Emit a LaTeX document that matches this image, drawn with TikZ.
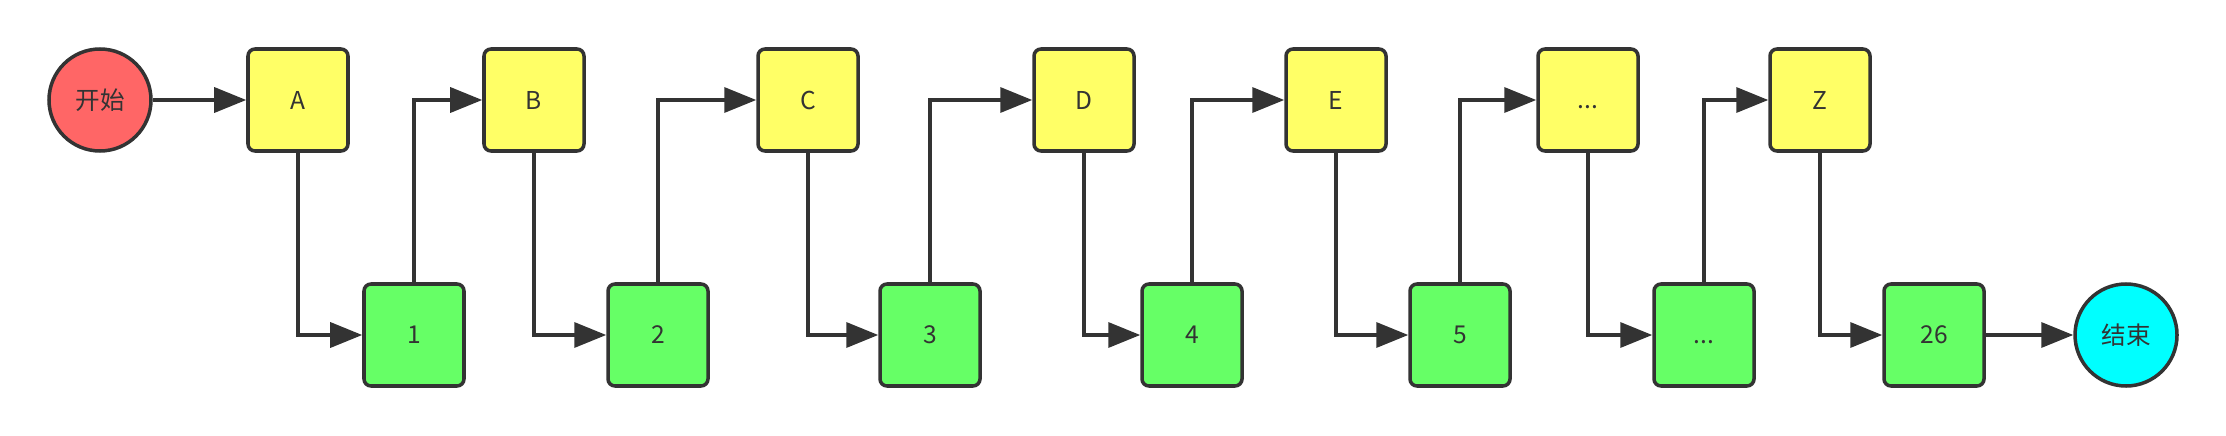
\documentclass[tikz,border=0pt]{standalone}
\usepackage{fontspec}
\setmainfont{Noto Sans CJK SC}
\usetikzlibrary{arrows.meta,shapes.geometric,positioning}
\definecolor{linegray}{HTML}{333333}
\definecolor{boxyellow}{HTML}{FFFF66}
\definecolor{boxgreen}{HTML}{66FF66}
\definecolor{startred}{HTML}{FF6666}
\definecolor{endcyan}{HTML}{00FFFF}

\begin{document}
\begin{tikzpicture}[
    every node/.style={font=\fontsize{14}{16}\selectfont,text=linegray},
    box/.style={rectangle,draw=linegray,line width=2pt,minimum width=2cm,minimum height=2.04cm,rounded corners=4pt,inner sep=0pt},
    letterbox/.style={box,fill=boxyellow},
    numbox/.style={box,fill=boxgreen},
    term/.style={ellipse,draw=linegray,line width=2pt,minimum width=2.04cm,minimum height=2.04cm,inner sep=0pt},
    arrow/.style={draw=linegray,line width=2pt,-{Triangle[length=0.64cm,width=0.5cm]}}
]
    \useasboundingbox (0,0) rectangle (44.52,-8.72);

    \node[term,fill=startred] (start) at (2.0,-2.0) {开始};
    \node[letterbox] (A) at (5.96,-2.0) {A};
    \node[numbox] (n1) at (8.28,-6.7) {1};
    \node[letterbox] (B) at (10.68,-2.0) {B};
    \node[numbox] (n2) at (13.16,-6.7) {2};
    \node[letterbox] (C) at (16.16,-2.0) {C};
    \node[numbox] (n3) at (18.6,-6.7) {3};
    \node[letterbox] (D) at (21.68,-2.0) {D};
    \node[numbox] (n4) at (23.84,-6.7) {4};
    \node[letterbox] (E) at (26.72,-2.0) {E};
    \node[numbox] (n5) at (29.2,-6.7) {5};
    \node[letterbox] (dotsL) at (31.76,-2.0) {\vphantom{A}...};
    \node[numbox] (dotsN) at (34.08,-6.7) {\vphantom{1}...};
    \node[letterbox] (Z) at (36.4,-2.0) {Z};
    \node[numbox] (n26) at (38.68,-6.7) {26};
    \node[term,fill=endcyan] (stop) at (42.52,-6.7) {结束};

    \draw[arrow] (start) -- (A);
    \draw[arrow] (A) |- (n1);
    \draw[arrow] (n1) |- (B);
    \draw[arrow] (B) |- (n2);
    \draw[arrow] (n2) |- (C);
    \draw[arrow] (C) |- (n3);
    \draw[arrow] (n3) |- (D);
    \draw[arrow] (D) |- (n4);
    \draw[arrow] (n4) |- (E);
    \draw[arrow] (E) |- (n5);
    \draw[arrow] (n5) |- (dotsL);
    \draw[arrow] (dotsL) |- (dotsN);
    \draw[arrow] (dotsN) |- (Z);
    \draw[arrow] (Z) |- (n26);
    \draw[arrow] (n26) -- (stop);
\end{tikzpicture}
\end{document}
